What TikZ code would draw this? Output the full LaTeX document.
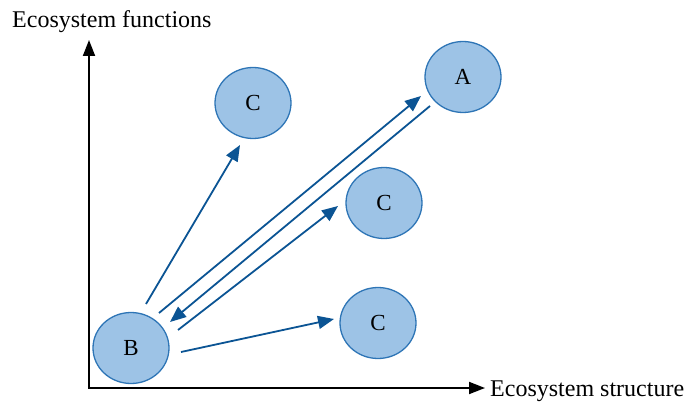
\documentclass[tikz,border=0pt]{standalone}
\usepackage{fontspec}
\setmainfont{Liberation Serif}
\usetikzlibrary{arrows.meta,shapes.geometric}
\definecolor{cfill}{RGB}{157,195,230}
\definecolor{cedge}{RGB}{46,117,182}
\definecolor{carrow}{RGB}{11,84,148}
\begin{document}
\begin{tikzpicture}[x=1pt,y=-1pt,
  blob/.style={ellipse,draw=cedge,fill=cfill,line width=1.3pt,minimum width=76pt,minimum height=71pt,inner sep=0pt,font=\fontsize{23}{26}\selectfont},
  flow/.style={draw=carrow,line width=1.8pt,-{Triangle[length=16pt,width=13pt]}},
  axis/.style={draw=black,line width=1.8pt,-{Triangle[length=16pt,width=12pt]}},
  lbl/.style={font=\fontsize{24}{28}\selectfont,inner sep=0pt}]
\useasboundingbox (0,0) rectangle (687,403);
\node[blob] (A) at (463,77) {A};
\node[blob] (C1) at (253,103) {C};
\node[blob] (C2) at (384,203) {C};
\node[blob] (C3) at (378,323) {C};
\node[blob] (B) at (131,348) {B};
\coordinate (O) at (89,388);
\coordinate (Ytop) at (89,40);
\coordinate (Xend) at (485,388);
\draw[axis] (O) -- (Ytop);
\draw[axis] ([xshift=-0.9pt]O) -- (Xend);
\node[lbl,anchor=west] (yl) at (12,22) {Ecosystem functions};
\node[lbl,anchor=west] (xl) at (490,391) {Ecosystem structure};
\coordinate (s1) at (146,304);
\coordinate (e1) at (240,145);
\coordinate (s2) at (159,313);
\coordinate (e2) at (421,96);
\coordinate (s3) at (430,106);
\coordinate (e3) at (170,322);
\coordinate (s4) at (178,330);
\coordinate (e4) at (338,206);
\coordinate (s5) at (181,352);
\coordinate (e5) at (334,319);
\draw[flow] (s1) -- (e1);
\draw[flow] (s2) -- (e2);
\draw[flow] (s3) -- (e3);
\draw[flow] (s4) -- (e4);
\draw[flow] (s5) -- (e5);
\end{tikzpicture}
\end{document}
